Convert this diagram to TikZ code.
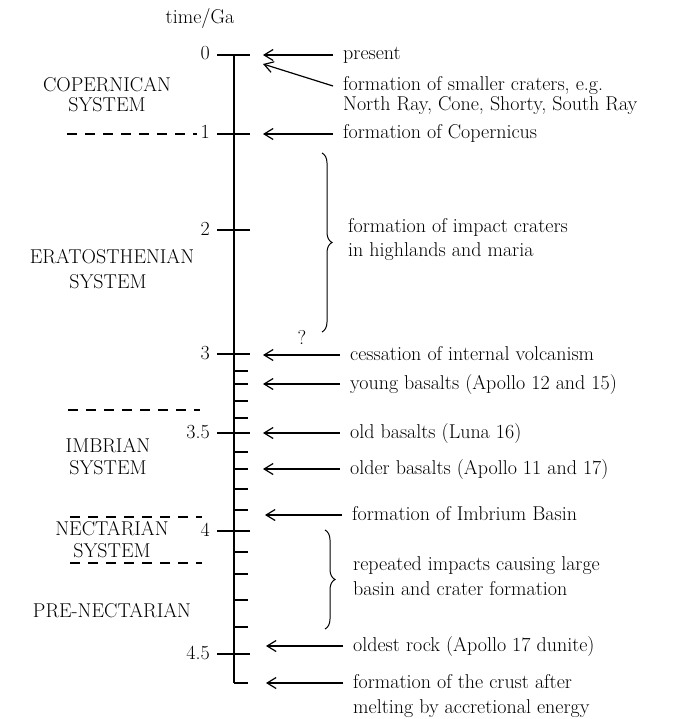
\documentclass[tikz,border=0pt]{standalone}
\usetikzlibrary{arrows.meta,decorations.pathreplacing}
\begin{document}
\begin{tikzpicture}[x=1pt,y=-1pt,
  every node/.style={font=\fontsize{20pt}{24pt}\selectfont, inner sep=0pt},
  lbl/.style={anchor=west, text height=14pt, text depth=4pt, inner xsep=10pt},
  txt/.style={anchor=west, text height=14pt, text depth=4pt},
  sys/.style={anchor=center, text height=14pt, text depth=4pt},
  num/.style={anchor=east, text height=14pt, text depth=4pt},
  axisline/.style={line width=1.6pt},
  major/.style={line width=1.6pt},
  minor/.style={line width=1.6pt},
  arr/.style={line width=1.2pt, -{Straight Barb[length=9pt,width=11pt]}},
  sep/.style={line width=1.5pt, dash pattern=on 10pt off 8pt},
  bracestyle/.style={line width=1pt, decorate, decoration={brace, amplitude=10pt}}]

\useasboundingbox (0,0) rectangle (687,719);

% axis
\coordinate (top) at (234,55);
\coordinate (bot) at (234,683);
\draw[axisline] (top) -- (bot);

\node[sys] (title) at (200,19) {time/Ga};

% major ticks and labels
\foreach \y/\l/\n in {55/0/t0, 134/1/t1, 230/2/t2, 354/3/t3, 433/3.5/t35, 531/4/t4, 654/4.5/t45} {
  \draw[major] (217,\y) -- (250,\y);
  \node[num] (\n) at (210,\y) {\l};
}
% minor ticks
\foreach \y in {371,384,401,418,452,469,489,510,552,574,600,627,683} {
  \draw[minor] (234,\y) -- (248,\y);
}

% dashed separators
\draw[sep] (67,134) -- (197,134);
\draw[sep] (68,410) -- (200,410);
\draw[sep] (70,517) -- (202,517);
\draw[sep] (70,563) -- (202,563);

% system labels
\node[sys] (cop1) at (107,87) {COPERNICAN};
\node[sys] (cop2) at (107,107) {SYSTEM};
\node[sys] (era1) at (112,258) {ERATOSTHENIAN};
\node[sys] (era2) at (108,283) {SYSTEM};
\node[sys] (imb1) at (108,447) {IMBRIAN};
\node[sys] (imb2) at (108,469) {SYSTEM};
\node[sys] (nec1) at (112,530) {NECTARIAN};
\node[sys] (nec2) at (112,552) {SYSTEM};
\node[sys] (pre) at (112,612) {PRE-NECTARIAN};

% arrow tips on axis side
\coordinate (apresent) at (263,55);
\coordinate (acraters) at (263,64);
\coordinate (acop) at (263,134);
\coordinate (acess) at (263,355);
\coordinate (ayoung) at (263,384);
\coordinate (aold) at (263,433);
\coordinate (aolder) at (263,469);
\coordinate (aimb) at (265,515);
\coordinate (aoldest) at (266,646);
\coordinate (acrust) at (266,683);

% event texts
\node[lbl] (present) at (333,55) {present};
\node[lbl] (craters1) at (333,86) {formation of smaller craters, e.g.};
\node[txt] (craters2) at (343,106) {North Ray, Cone, Shorty, South Ray};
\node[lbl] (cop) at (333,134) {formation of Copernicus};
\node[txt] (impact1) at (348,228) {formation of impact craters};
\node[txt] (impact2) at (348,251) {in highlands and maria};
\node[lbl] (cess) at (340,355) {cessation of internal volcanism};
\node[lbl] (young) at (340,384) {young basalts (Apollo 12 and 15)};
\node[lbl] (old) at (340,433) {old basalts (Luna 16)};
\node[lbl] (older) at (340,469) {older basalts (Apollo 11 and 17)};
\node[lbl] (imb) at (342,515) {formation of Imbrium Basin};
\node[txt] (rep1) at (353,565) {repeated impacts causing large};
\node[txt] (rep2) at (353,590) {basin and crater formation};
\node[lbl] (oldest) at (343,646) {oldest rock (Apollo 17 dunite)};
\node[lbl] (crust1) at (343,683) {formation of the crust after};
\node[txt] (crust2) at (353,708) {melting by accretional energy};
\node[sys] (q) at (302,339) {?};

% arrows
\draw[arr] (present.west) -- (apresent);
\draw[arr] (craters1.west) -- (acraters);
\draw[arr] (cop.west) -- (acop);
\draw[arr] (cess.west) -- (acess);
\draw[arr] (young.west) -- (ayoung);
\draw[arr] (old.west) -- (aold);
\draw[arr] (older.west) -- (aolder);
\draw[arr] (imb.west) -- (aimb);
\draw[arr] (oldest.west) -- (aoldest);
\draw[arr] (crust1.west) -- (acrust);

% braces
\draw[bracestyle] (322,153) -- (322,332);
\draw[bracestyle] (325,530) -- (325,629);
\end{tikzpicture}
\end{document}
